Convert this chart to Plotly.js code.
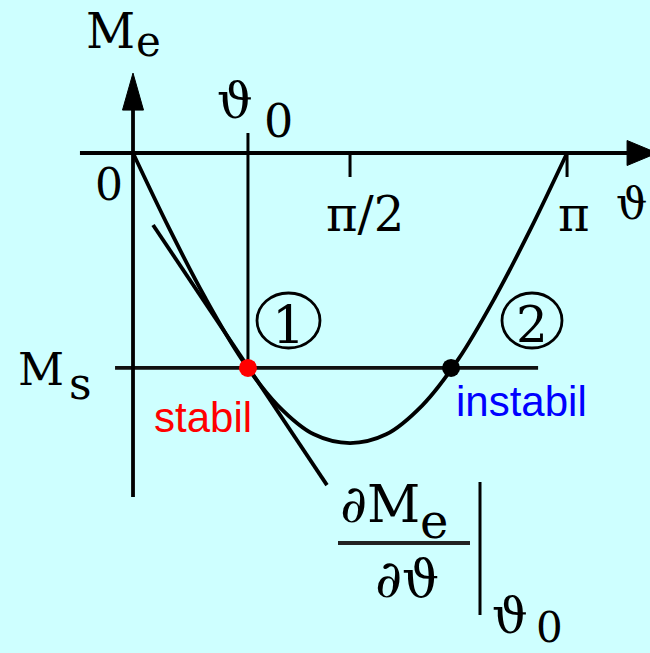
<!DOCTYPE html>
<html>
<head>
<meta charset="utf-8">
<script src="https://cdn.plot.ly/plotly-3.0.1.min.js"></script>
<style>
  html, body { margin: 0; padding: 0; background: #ceffff; }
  #chart { width: 650px; height: 653px; }
</style>
</head>
<body>
<div id="chart"></div>
<script>
// Electrical torque M_e over load angle ϑ (radians), torque in units of its peak.
const curveTheta = [0, 0.2618, 0.5236, 0.7854, 1.0472, 1.3090, 1.5708,
                    1.8326, 2.0944, 2.3562, 2.6180, 2.8798, 3.1416];
const curveMe    = [0, -0.26, -0.50, -0.71, -0.87, -0.97, -1.00,
                    -0.97, -0.87, -0.71, -0.50, -0.26, 0];

// Load torque level and the two operating points
const msLevel = -0.741;
const theta0 = 0.832;          // stable point ①
const thetaUnstable = 2.302;   // unstable point ②

// Tangent to the curve at ϑ0
const tangentTheta = [0.145, 1.404];
const tangentMe    = [-0.248, -1.145];

// Axis ticks
const tickTheta  = [1.5708, 3.1416];
const tickLabels = ['π/2', 'π'];

// ---- figure geometry ----
const W = 650, H = 653;
const xRange = [-0.9627, 3.742];
const yRange = [-1.724, 0.5276];
const pxPerX = W / (xRange[1] - xRange[0]);
const pxPerY = H / (yRange[1] - yRange[0]);
const dx = p => p / pxPerX;          // pixel length -> data length (x)
const dy = p => p / pxPerY;          // pixel length -> data length (y)
const px = p => p / W;               // pixel -> paper (x)
const py = p => 1 - p / H;           // pixel -> paper (y)

const serif = 'DejaVu Serif';
const sans = 'Liberation Sans';
const LW = 3.8;

const traces = [
  { // tangent
    x: tangentTheta, y: tangentMe, mode: 'lines',
    line: { color: '#000', width: LW }, hoverinfo: 'skip'
  },
  { // torque curve
    x: curveTheta, y: curveMe, mode: 'lines',
    line: { color: '#000', width: LW, shape: 'spline', smoothing: 1 }, hoverinfo: 'skip'
  },
  { // ϑ0 guide
    x: [theta0, theta0], y: [dy(20), msLevel], mode: 'lines',
    line: { color: '#000', width: 3 }, hoverinfo: 'skip'
  },
  { // load torque line
    x: [-0.130, 2.932], y: [msLevel, msLevel], mode: 'lines',
    line: { color: '#111', width: LW }, hoverinfo: 'skip'
  },
  { // operating points
    x: [theta0, thetaUnstable], y: [msLevel, msLevel], mode: 'markers',
    marker: { color: ['#ff0000', '#000000'], size: 18 }, hoverinfo: 'skip'
  }
];

const shapes = [];
// ϑ axis with arrow
shapes.push({ type: 'line', xref: 'x', yref: 'y', x0: -0.384, x1: 3.58, y0: 0, y1: 0,
              line: { color: '#000', width: LW } });
{
  const xb = 3.576, xt = xb + dx(30), h = dy(12.5);
  shapes.push({ type: 'path', xref: 'x', yref: 'y',
    path: `M ${xb},${h} L ${xt},0 L ${xb},${-h} Z`,
    fillcolor: '#000', line: { color: '#000', width: 1 } });
}
// M_e axis with arrow
shapes.push({ type: 'line', xref: 'x', yref: 'y', x0: 0, x1: 0, y0: -1.186, y1: 0.15,
              line: { color: '#000', width: LW } });
{
  const yb = 0.148, yt = yb + dy(37), w = dx(10.5);
  shapes.push({ type: 'path', xref: 'x', yref: 'y',
    path: `M ${-w},${yb} L 0,${yt} L ${w},${yb} Z`,
    fillcolor: '#000', line: { color: '#000', width: 1 } });
}
// ticks
tickTheta.forEach(t => shapes.push({ type: 'line', xref: 'x', yref: 'y',
  x0: t, x1: t, y0: 0, y1: -dy(24), line: { color: '#000', width: 3 } }));
// circled markers ① ②
[[257, 320], [502, 562]].forEach(([a, b]) => shapes.push({ type: 'circle',
  xref: 'paper', yref: 'paper', x0: px(a), x1: px(b), y0: py(348), y1: py(293),
  line: { color: '#000', width: 2.8 } }));
// fraction bar and evaluation bar
shapes.push({ type: 'line', xref: 'paper', yref: 'paper', x0: px(338), x1: px(470),
  y0: py(543), y1: py(543), line: { color: '#222', width: 4 } });
shapes.push({ type: 'line', xref: 'paper', yref: 'paper', x0: px(480), x1: px(480),
  y0: py(482), y1: py(615), line: { color: '#000', width: 3 } });

function txt(text, x, y, size, opts = {}) {
  return Object.assign({
    text, x: px(x), y: py(y), xref: 'paper', yref: 'paper',
    xanchor: 'center', yanchor: 'middle', showarrow: false,
    font: { family: serif, size, color: '#000' }
  }, opts);
}

const annotations = [
  txt('M', 110, 31, 48),
  txt('e', 148, 42, 42),
  txt('ϑ', 235, 101, 50),
  txt('0', 278, 121, 46),
  txt('0', 109, 185, 44),
  txt('ϑ', 649, 203, 44, { xanchor: 'right' }),
  txt('M', 41, 369, 45),
  txt('s', 80, 383, 44),
  txt('1', 288, 325, 52),
  txt('2', 532, 325, 50),
  txt('stabil', 203, 417, 42, { font: { family: sans, size: 42, color: '#ff0000' } }),
  txt('instabil', 521, 401, 42, { font: { family: sans, size: 42, color: '#0000ff' } }),
  txt('∂M', 380, 504, 52),
  txt('e', 434, 521, 48),
  txt('∂ϑ', 407, 579, 52),
  txt('ϑ', 510, 616, 50),
  txt('0', 549, 627, 42)
];
// tick labels placed at their tick positions
const tickShift = [15, 7];
tickTheta.forEach((t, i) => annotations.push({
  text: tickLabels[i], x: t, y: 0, xref: 'x', yref: 'y',
  xanchor: 'center', yanchor: 'middle', yshift: -61, xshift: tickShift[i],
  showarrow: false, font: { family: serif, size: 48, color: '#000' }
}));

const layout = {
  width: W, height: H,
  margin: { l: 0, r: 0, t: 0, b: 0 },
  paper_bgcolor: '#ceffff', plot_bgcolor: '#ceffff',
  showlegend: false,
  xaxis: { range: xRange, visible: false, fixedrange: true },
  yaxis: { range: yRange, visible: false, fixedrange: true },
  shapes, annotations
};

Plotly.newPlot('chart', traces, layout, { staticPlot: true, displayModeBar: false });
</script>
</body>
</html>
